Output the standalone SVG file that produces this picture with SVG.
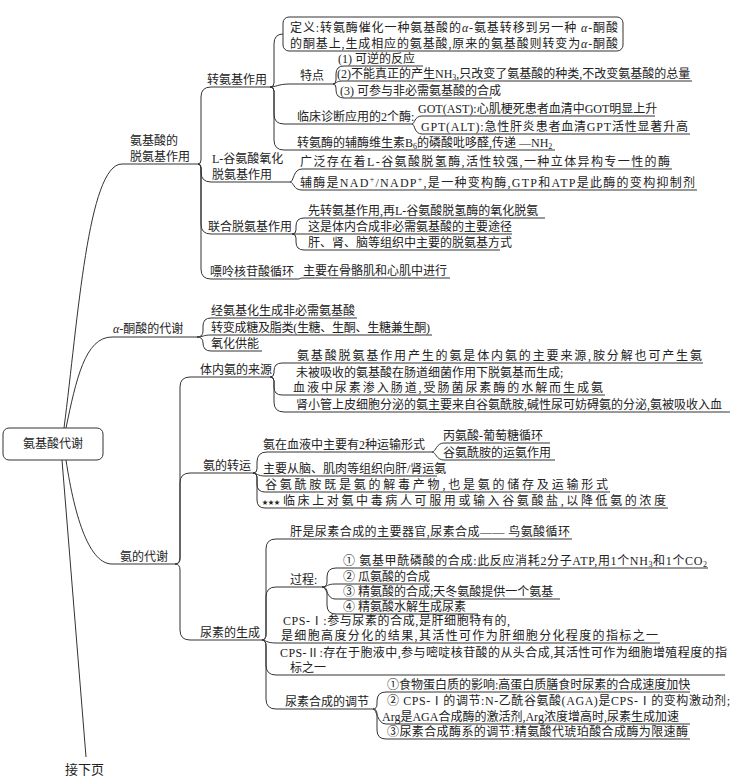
<svg xmlns="http://www.w3.org/2000/svg" width="731" height="780" viewBox="0 0 731 780">
<style>
text{font-family:"Liberation Serif","Noto Sans CJK SC",serif;font-size:12px;fill:#222}
.ln{fill:none;stroke:#333;stroke-width:1}
.box{fill:#fff;stroke:#333;stroke-width:1}
.sub{font-size:8px}
.a{font-style:italic}
.star{font-size:6px}
.big{font-size:13px}
</style>
<rect width="731" height="780" fill="#fff"/>
<g id="connectors">
<path class="ln" d="M64 428 C78 320 88 164 122 164 L198 164"/>
<path class="ln" d="M66 428 C76 380 85 337 112 337 L197 337"/>
<path class="ln" d="M66 460 C75 520 90 564 112 564 L175 564"/>
<path class="ln" d="M62 460 L86 757"/>
<path class="ln" d="M198 164 Q201 164 201 160 L201 97 Q201 87 211 87 L270 87"/>
<path class="ln" d="M198 164 Q201 164 201 168 L201 172 Q201 182 211 182 L290 182"/>
<path class="ln" d="M198 164 Q201 164 201 168 L201 224 Q201 234 211 234 L292 234"/>
<path class="ln" d="M198 164 Q201 164 201 168 L201 269 Q201 279 211 279 L298 279"/>
<path class="ln" d="M270 87 Q274 87 274 83 L274 44 Q274 34 283 34"/>
<path class="ln" d="M270 87 C276 87 278 84 290 84 L333 84"/>
<path class="ln" d="M333 84 Q336 84 336 80 L336 74 Q336 66 344 66 L423 66"/>
<path class="ln" d="M333 84 C336 84 336 81 342 81 L692 81"/>
<path class="ln" d="M333 84 Q336 84 336 88 L336 90 Q336 98 344 98 L492 98"/>
<path class="ln" d="M270 87 Q274 87 274 91 L274 114 Q274 124 284 124 L412 124"/>
<path class="ln" d="M412 124 C415 124 414 116 422 116 L655 116"/>
<path class="ln" d="M412 124 C415 124 414 134 422 134 L690 134"/>
<path class="ln" d="M270 87 Q274 87 274 91 L274 140 Q274 150 284 150 L555 150"/>
<path class="ln" d="M290 182 C294 182 293 169 302 169 L672 169"/>
<path class="ln" d="M290 182 C294 182 293 190 302 190 L697 190"/>
<path class="ln" d="M292 234 Q296 234 296 230 L296 226 Q296 218 304 218 L545 218"/>
<path class="ln" d="M292 234 L512 234"/>
<path class="ln" d="M292 234 Q296 234 296 238 L296 242 Q296 250 304 250 L500 250"/>
<path class="ln" d="M298 279 C300 279 300 278 303 278 L450 278"/>
<path class="ln" d="M197 337 Q203 337 203 331 L203 326 Q203 318 211 318 L357 318"/>
<path class="ln" d="M197 337 C203 337 203 335 211 335 L432 335"/>
<path class="ln" d="M197 337 Q203 337 203 343 Q203 351 211 351 L262 351"/>
<path class="ln" d="M175 564 Q180 564 180 558 L180 387 Q180 377 190 377 L270 377"/>
<path class="ln" d="M175 564 Q180 564 180 558 L180 483 Q180 473 190 473 L253 473"/>
<path class="ln" d="M175 564 Q180 564 180 570 L180 630 Q180 640 190 640 L262 640"/>
<path class="ln" d="M270 377 Q274 377 274 373 L274 371 Q274 363 282 363 L703 363"/>
<path class="ln" d="M270 377 Q274 377 274 381 L274 387 Q274 395 282 395 L605 395"/>
<path class="ln" d="M270 377 Q274 377 274 381 L274 402 Q274 412 284 412 L730 412"/>
<path class="ln" d="M253 473 Q257 473 257 469 L257 462 Q257 452 267 452 L432 452"/>
<path class="ln" d="M432 452 C436 452 436 443 444 443 L550 443"/>
<path class="ln" d="M432 452 C436 452 436 460 444 460 L555 460"/>
<path class="ln" d="M253 473 C257 473 257 476 265 476 L437 476"/>
<path class="ln" d="M253 473 Q257 473 257 477 L257 484 Q257 492 265 492 L610 492"/>
<path class="ln" d="M253 473 Q257 473 257 477 L257 500 Q257 508 265 508 L668 508"/>
<path class="ln" d="M262 640 Q266 640 266 634 L266 549 Q266 539 276 539 L572 539"/>
<path class="ln" d="M262 640 Q266 640 266 634 L266 597 Q266 587 276 587 L322 587"/>
<path class="ln" d="M322 587 Q327 587 327 582 L327 577 Q327 568 336 568 L708 568"/>
<path class="ln" d="M322 587 C327 587 327 584 335 584 L430 584"/>
<path class="ln" d="M322 587 C327 587 327 599 335 599 L560 599"/>
<path class="ln" d="M322 587 Q327 587 327 592 L327 605 Q327 614 336 614 L478 614"/>
<path class="ln" d="M262 640 C266 640 266 643 276 643 L660 643"/>
<path class="ln" d="M262 640 Q266 640 266 646 L266 665 Q266 675 276 675 L725 675"/>
<path class="ln" d="M262 640 Q266 640 266 646 L266 699 Q266 709 276 709 L373 709"/>
<path class="ln" d="M373 709 Q377 709 377 704 L377 701 Q377 692 386 692 L690 692"/>
<path class="ln" d="M373 709 C377 709 377 724 386 724 L690 724"/>
<path class="ln" d="M373 709 Q377 709 377 714 L377 730 Q377 739 386 739 L690 739"/>
</g>
<g id="root"><rect class="box" x="3" y="428" width="100" height="32" rx="6"/><text x="53" y="448" text-anchor="middle">氨基酸代谢</text></g>
<g id="n-deamination"><text x="130" y="145">氨基酸的</text><text x="130" y="161">脱氨基作用</text></g>
<g id="n-transamination"><text x="207" y="84">转氨基作用</text></g>
<g id="n-def"><rect class="box" x="283" y="17" width="340" height="34" rx="6"/><text x="290" y="32" textLength="328" lengthAdjust="spacing">定义:转氨酶催化一种氨基酸的<tspan class="a">α</tspan>-氨基转移到另一种 <tspan class="a">α</tspan>-酮酸</text><text x="290" y="48" textLength="328" lengthAdjust="spacing">的酮基上,生成相应的氨基酸,原来的氨基酸则转变为<tspan class="a">α</tspan>-酮酸</text></g>
<g id="n-feature"><text x="300" y="80">特点</text></g>
<g id="n-f1"><text x="338" y="63">(1) 可逆的反应</text></g>
<g id="n-f2"><text x="337" y="78">(2)不能真正的产生NH<tspan class="sub" dy="2">3</tspan><tspan dy="-2">,只改变了氨基酸的种类,不改变氨基酸的总量</tspan></text></g>
<g id="n-f3"><text x="340" y="95">(3) 可参与非必需氨基酸的合成</text></g>
<g id="n-clinic"><text x="297" y="121">临床诊断应用的2个酶:</text></g>
<g id="n-got"><text x="418" y="113">GOT(AST):心肌梗死患者血清中GOT明显上升</text></g>
<g id="n-gpt"><text x="421" y="131" textLength="267" lengthAdjust="spacing">GPT(ALT):急性肝炎患者血清GPT活性显著升高</text></g>
<g id="n-b6"><text x="297" y="147">转氨酶的辅酶维生素B<tspan class="sub" dy="2">6</tspan><tspan dy="-2">的磷酸吡哆醛,传递 —NH</tspan><tspan class="sub" dy="2">2</tspan></text></g>
<g id="n-lglu"><text x="212" y="163">L-谷氨酸氧化</text><text x="212" y="179">脱氨基作用</text></g>
<g id="n-lglu1"><text x="300" y="166" textLength="370" lengthAdjust="spacing">广泛存在着L-谷氨酸脱氢酶,活性较强,一种立体异构专一性的酶</text></g>
<g id="n-lglu2"><text x="300" y="187" textLength="395" lengthAdjust="spacing">辅酶是NAD<tspan class="sub" dy="-5">+</tspan><tspan dy="5">/NADP</tspan><tspan class="sub" dy="-5">+</tspan><tspan dy="5">,是一种变构酶,GTP和ATP是此酶的变构抑制剂</tspan></text></g>
<g id="n-united"><text x="208" y="231">联合脱氨基作用</text></g>
<g id="n-u1"><text x="308" y="215">先转氨基作用,再L-谷氨酸脱氢酶的氧化脱氨</text></g>
<g id="n-u2"><text x="308" y="231">这是体内合成非必需氨基酸的主要途径</text></g>
<g id="n-u3"><text x="308" y="247">肝、肾、脑等组织中主要的脱氨基方式</text></g>
<g id="n-purine"><text x="210" y="276">嘌呤核苷酸循环</text></g>
<g id="n-p1"><text x="303" y="275">主要在骨骼肌和心肌中进行</text></g>
<g id="n-keto"><text x="113" y="333"><tspan class="a">α</tspan>-酮酸的代谢</text></g>
<g id="n-k1"><text x="211" y="315">经氨基化生成非必需氨基酸</text></g>
<g id="n-k2"><text x="211" y="332" textLength="219" lengthAdjust="spacing">转变成糖及脂类(生糖、生酮、生糖兼生酮)</text></g>
<g id="n-k3"><text x="211" y="348">氧化供能</text></g>
<g id="n-ammonia"><text x="120" y="561">氨的代谢</text></g>
<g id="n-source"><text x="200" y="374">体内氨的来源</text></g>
<g id="n-s1"><text x="297" y="360" textLength="405" lengthAdjust="spacing">氨基酸脱氨基作用产生的氨是体内氨的主要来源,胺分解也可产生氨</text></g>
<g id="n-s2"><text x="296" y="377">未被吸收的氨基酸在肠道细菌作用下脱氨基而生成;</text><text x="293" y="392" textLength="310" lengthAdjust="spacing">血液中尿素渗入肠道,受肠菌尿素酶的水解而生成氨</text></g>
<g id="n-s3"><text x="296" y="409">肾小管上皮细胞分泌的氨主要来自谷氨酰胺,碱性尿可妨碍氨的分泌,氨被吸收入血</text></g>
<g id="n-transport"><text x="203" y="470">氨的转运</text></g>
<g id="n-t1"><text x="263" y="449">氨在血液中主要有2种运输形式</text></g>
<g id="n-t1a"><text x="443" y="440">丙氨酸-葡萄糖循环</text></g>
<g id="n-t1b"><text x="443" y="457">谷氨酰胺的运氨作用</text></g>
<g id="n-t2"><text x="263" y="473">主要从脑、肌肉等组织向肝/肾运氨</text></g>
<g id="n-t3"><text x="265" y="489" textLength="343" lengthAdjust="spacing">谷氨酰胺既是氨的解毒产物,也是氨的储存及运输形式</text></g>
<g id="n-t4"><text class="star" x="262" y="504">★★★</text><text x="283" y="505" textLength="383" lengthAdjust="spacing">临床上对氨中毒病人可服用或输入谷氨酸盐,以降低氨的浓度</text></g>
<g id="n-urea"><text x="200" y="637">尿素的生成</text></g>
<g id="n-u-liver"><text x="290" y="536" textLength="280" lengthAdjust="spacing">肝是尿素合成的主要器官,尿素合成—— 鸟氨酸循环</text></g>
<g id="n-process"><text x="290" y="584">过程:</text></g>
<g id="n-pr1"><text x="343" y="565" textLength="364" lengthAdjust="spacing">① 氨基甲酰磷酸的合成:此反应消耗2分子ATP,用1个NH<tspan class="sub" dy="2">3</tspan><tspan dy="-2">和1个CO</tspan><tspan class="sub" dy="2">2</tspan></text></g>
<g id="n-pr2"><text x="343" y="581">② 瓜氨酸的合成</text></g>
<g id="n-pr3"><text x="343" y="596">③ 精氨酸的合成;天冬氨酸提供一个氨基</text></g>
<g id="n-pr4"><text x="343" y="611">④ 精氨酸水解生成尿素</text></g>
<g id="n-cps1"><text x="283" y="625" textLength="227" lengthAdjust="spacing">CPS-Ⅰ:参与尿素的合成,是肝细胞特有的,</text><text x="281" y="640" textLength="377" lengthAdjust="spacing">是细胞高度分化的结果,其活性可作为肝细胞分化程度的指标之一</text></g>
<g id="n-cps2"><text x="280" y="657" textLength="447" lengthAdjust="spacing">CPS-Ⅱ:存在于胞液中,参与嘧啶核苷酸的从头合成,其活性可作为细胞增殖程度的指</text><text x="290" y="672">标之一</text></g>
<g id="n-reg"><text x="285" y="706">尿素合成的调节</text></g>
<g id="n-r1"><text x="387" y="689">①食物蛋白质的影响:高蛋白质膳食时尿素的合成速度加快</text></g>
<g id="n-r2"><text x="387" y="705" textLength="343" lengthAdjust="spacing">② CPS-Ⅰ的调节:N-乙酰谷氨酸(AGA)是CPS-Ⅰ的变构激动剂;</text><text x="382" y="721">Arg是AGA合成酶的激活剂,Arg浓度增高时,尿素生成加速</text></g>
<g id="n-r3"><text x="387" y="736" textLength="301" lengthAdjust="spacing">③尿素合成酶系的调节:精氨酸代琥珀酸合成酶为限速酶</text></g>
<g id="n-next"><text class="big" x="65" y="774">接下页</text></g>
</svg>
